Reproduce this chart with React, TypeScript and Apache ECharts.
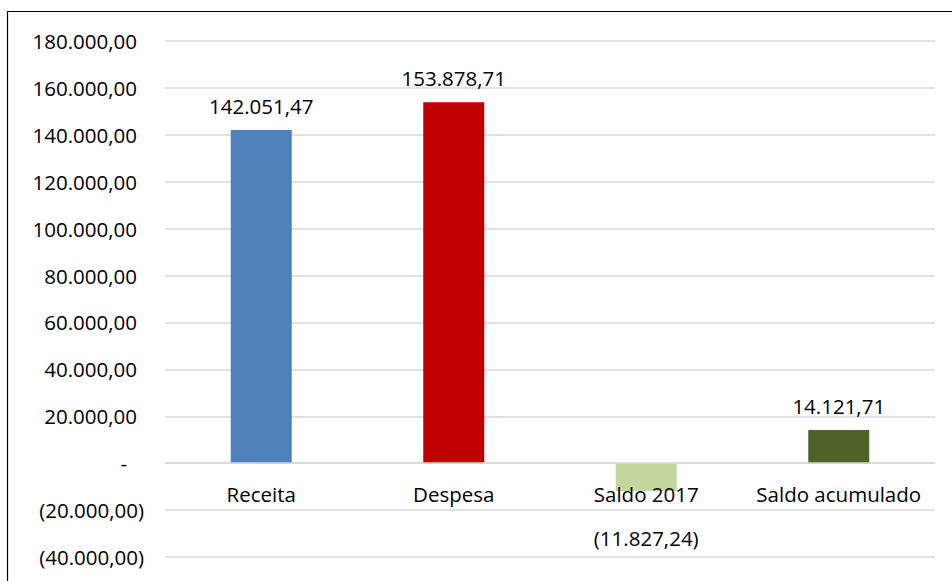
import React, { useEffect, useRef } from "react";
import * as echarts from "echarts";

const categories = ["Receita", "Despesa", "Saldo 2017", "Saldo acumulado"];
const values = [142051.47, 153878.71, -11827.24, 14121.71];
const barColors = ["#4F81BD", "#C00000", "#C3D69B", "#4F6228"];
const yMin = -40000;
const yMax = 180000;
const yInterval = 20000;

function fmtNum(v: number): string {
  const abs = Math.abs(v);
  const parts = abs.toFixed(2).split(".");
  const intPart = parts[0].replace(/\B(?=(\d{3})+(?!\d))/g, ".");
  return intPart + "," + parts[1];
}

function fmtAccounting(v: number): string {
  if (Math.abs(v) < 1e-9) return "-";
  if (v < 0) return "(" + fmtNum(v) + ")";
  return fmtNum(v);
}

const FONT = "'Open Sans', 'Noto Sans', sans-serif";
const FS = 20.5;
const GRID_TOP = 41;
const GRID_HEIGHT = 516;
// distance from grid bottom to the zero line, derived from the axis range
const zeroOffset = (GRID_HEIGHT * (0 - yMin)) / (yMax - yMin);

export default function App() {
  const ref = useRef<HTMLDivElement>(null);
  useEffect(() => {
    if (!ref.current) return;
    const chart = echarts.init(ref.current, undefined, { renderer: "svg" });
    chart.setOption({
      animation: false,
      backgroundColor: "#ffffff",
      textStyle: { fontFamily: FONT },
      graphic: [
        {
          type: "rect",
          shape: { x: 7.5, y: 11.5, width: 1000, height: 700 },
          style: { fill: "none", stroke: "#000000", lineWidth: 1.2 },
          silent: true,
          z: 100,
        },
      ],
      grid: {
        left: 165,
        width: 770,
        top: GRID_TOP,
        height: GRID_HEIGHT,
        containLabel: false,
        outerBoundsMode: "none",
      },
      xAxis: {
        type: "category",
        data: categories,
        position: "bottom",
        offset: -zeroOffset,
        z: 5,
        axisLine: { show: true, onZero: false, lineStyle: { color: "#d9d9d9", width: 1.5 } },
        axisTick: { show: false },
        axisLabel: {
          interval: 0,
          margin: 20,
          fontSize: FS,
          color: "#000000",
          fontFamily: FONT,
        },
      },
      yAxis: {
        type: "value",
        min: yMin,
        max: yMax,
        interval: yInterval,
        axisLine: { show: false },
        axisTick: { show: false },
        splitLine: { lineStyle: { color: "#d9d9d9", width: 1.5 } },
        axisLabel: {
          margin: 21,
          color: "#000000",
          fontSize: FS,
          fontFamily: FONT,
          formatter: (v: number) => {
            if (Math.abs(v) < 1e-9) return "{z|-}";
            if (v < 0) return "{n|" + fmtAccounting(v) + "}";
            return "{p|" + fmtAccounting(v) + "}";
          },
          rich: {
            p: { fontSize: FS, color: "#000", fontFamily: FONT, padding: [0, 7, 0, 0] },
            n: { fontSize: FS, color: "#000", fontFamily: FONT },
            z: { fontSize: FS, color: "#000", fontFamily: FONT, padding: [0, 17, 0, 0] },
          },
        },
      },
      series: [
        {
          type: "bar",
          barWidth: 61,
          z: 1,
          data: values.map((v, i) => ({
            value: v,
            itemStyle: { color: barColors[i] },
            label:
              v < 0
                ? { position: "bottom", distance: 37 }
                : { position: "top", distance: 14 },
          })),
          label: {
            show: true,
            fontSize: FS,
            color: "#000000",
            fontFamily: FONT,
            formatter: (p: any) => fmtAccounting(p.value),
          },
        },
      ],
    });
    return () => chart.dispose();
  }, []);
  return (
    <div
      ref={ref}
      style={{ position: "fixed", left: 0, top: 0, width: 952, height: 581 }}
    />
  );
}
